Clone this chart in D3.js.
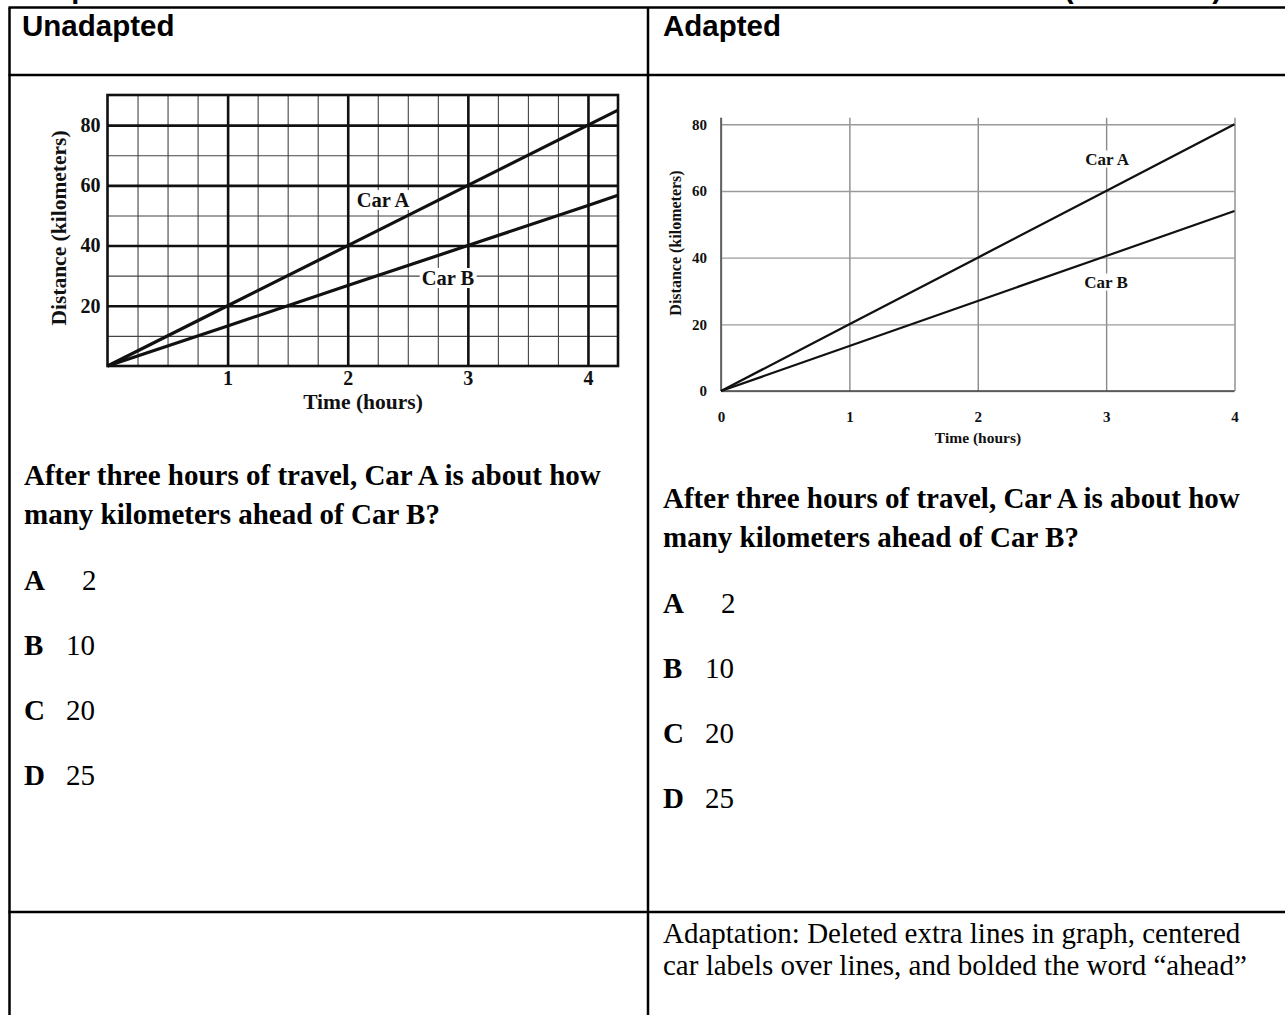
<!DOCTYPE html>
<html>
<head>
<meta charset="utf-8">
<script src="https://cdn.jsdelivr.net/npm/d3@7"></script>
<style>
  html, body { margin: 0; padding: 0; background: #fff; }
  svg { display: block; }
  .serif { font-family: "Liberation Serif", "Times New Roman", serif; }
  .sans { font-family: "Liberation Sans", Arial, sans-serif; }
</style>
</head>
<body>
<div id="page"></div>
<script>
// chart values
const leftHours = [0, 1, 2, 3, 4, 4.25];
const leftCarA = [0, 20, 40, 60, 80, 85];
const leftCarB = [0, 13.3, 26.7, 40, 53.3, 56.7];
const leftXTicks = [1, 2, 3, 4];
const leftYTicks = [20, 40, 60, 80];

const rightHours = [0, 1, 2, 3, 4];
const rightCarA = [0, 20, 40, 60, 80];
const rightCarB = [0, 13.5, 27, 40.5, 54];
const rightXTicks = [0, 1, 2, 3, 4];
const rightYTicks = [0, 20, 40, 60, 80];

const headers = ['Unadapted', 'Adapted'];
const questionLines = ['After three hours of travel, Car A is about how', 'many kilometers ahead of Car B?'];
const optionLetters = ['A', 'B', 'C', 'D'];
const optionValues = ['2', '10', '20', '25'];
const noteLines = ['Adaptation: Deleted extra lines in graph, centered', 'car labels over lines, and bolded the word \u201Cahead\u201D'];

const W = 1285, H = 1015;
const svg = d3.select('#page').append('svg')
    .attr('width', W)
    .attr('height', H);

svg.append('rect').attr('width', W).attr('height', H).attr('fill', '#fff');

// title line above the table, mostly cut off
svg.append('text').attr('class', 'sans').attr('x', 10).attr('y', -2)
    .attr('font-size', 29).attr('font-weight', 'bold').text('Sample');
svg.append('text').attr('class', 'sans').attr('x', 1064).attr('y', -2)
    .attr('font-size', 29).attr('font-weight', 'bold').text('(continued)');

// table borders
const table = svg.append('g').attr('stroke', '#000').attr('stroke-width', 2.5);
table.append('line').attr('x1', 8.5).attr('x2', W).attr('y1', 7.5).attr('y2', 7.5);
table.append('line').attr('x1', 9.5).attr('x2', 9.5).attr('y1', 7.5).attr('y2', H);
table.append('line').attr('x1', 648).attr('x2', 648).attr('y1', 7.5).attr('y2', H);
table.append('line').attr('x1', 8.5).attr('x2', W).attr('y1', 75).attr('y2', 75);
table.append('line').attr('x1', 8.5).attr('x2', W).attr('y1', 912).attr('y2', 912);

// column headers
svg.selectAll('.hdr').data(headers).enter().append('text')
    .attr('class', 'hdr sans')
    .attr('x', (d, i) => i === 0 ? 22 : 663)
    .attr('y', 36)
    .attr('font-size', 29.5)
    .attr('font-weight', 'bold')
    .text(d => d);

// ---------- left (unadapted) chart ----------
const xL = d3.scaleLinear().domain([0, 4.25]).range([107.5, 618]);
const yL = d3.scaleLinear().domain([0, 90]).range([366, 95]);
const left = svg.append('g');

const minorXL = d3.range(0.25, 4.25, 0.25).filter(v => !leftXTicks.includes(v));
const minorYL = [10, 30, 50, 70];

left.append('g')
    .attr('transform', `translate(0,${yL(0)})`)
    .call(d3.axisBottom(xL).tickValues(minorXL).tickSize(-(yL(0) - yL(90))).tickFormat(''))
    .call(g => g.select('.domain').remove())
    .selectAll('line').attr('stroke', '#444').attr('stroke-width', 1.1);
left.append('g')
    .attr('transform', `translate(${xL(0)},0)`)
    .call(d3.axisLeft(yL).tickValues(minorYL).tickSize(-(xL(4.25) - xL(0))).tickFormat(''))
    .call(g => g.select('.domain').remove())
    .selectAll('line').attr('stroke', '#444').attr('stroke-width', 1.1);

const xAxisL = left.append('g')
    .attr('transform', `translate(0,${yL(0)})`)
    .call(d3.axisBottom(xL).tickValues(leftXTicks).tickSize(-(yL(0) - yL(90))).tickPadding(5).tickFormat(d3.format('d')));
xAxisL.select('.domain').remove();
xAxisL.selectAll('line').attr('stroke', '#111').attr('stroke-width', 2.6);

const yAxisL = left.append('g')
    .attr('transform', `translate(${xL(0)},0)`)
    .call(d3.axisLeft(yL).tickValues(leftYTicks).tickSize(-(xL(4.25) - xL(0))).tickPadding(7).tickFormat(d3.format('d')));
yAxisL.select('.domain').remove();
yAxisL.selectAll('line').attr('stroke', '#111').attr('stroke-width', 2.6);

left.selectAll('.tick text')
    .attr('class', 'serif')
    .attr('font-size', 20)
    .attr('font-weight', 'bold')
    .attr('fill', '#111');

left.append('rect')
    .attr('x', xL(0)).attr('y', yL(90))
    .attr('width', xL(4.25) - xL(0)).attr('height', yL(0) - yL(90))
    .attr('fill', 'none').attr('stroke', '#111').attr('stroke-width', 2.6);

const lineL = d3.line().x(d => xL(d[0])).y(d => yL(d[1]));
[leftCarA, leftCarB].forEach(series => {
    left.append('path')
        .datum(leftHours.map((h, i) => [h, series[i]]))
        .attr('d', lineL)
        .attr('fill', 'none')
        .attr('stroke', '#111')
        .attr('stroke-width', 3.2);
});

function boxedLabel(g, x, y, txt, size, pad) {
    const t = g.append('text').attr('class', 'serif')
        .attr('x', x).attr('y', y)
        .attr('text-anchor', 'middle').attr('dominant-baseline', 'central')
        .attr('font-size', size).attr('font-weight', 'bold').attr('fill', '#111')
        .text(txt);
    const b = t.node().getBBox();
    g.insert('rect', () => t.node())
        .attr('x', b.x - pad).attr('y', b.y + 1)
        .attr('width', b.width + pad * 2).attr('height', b.height - 2)
        .attr('fill', '#fff');
}

boxedLabel(left, 383, 200, 'Car A', 20.5, 2);
boxedLabel(left, 448, 278, 'Car B', 20.5, 2);

left.append('text').attr('class', 'serif')
    .attr('x', 363).attr('y', 409)
    .attr('text-anchor', 'middle')
    .attr('font-size', 21.5).attr('font-weight', 'bold').attr('fill', '#111')
    .text('Time (hours)');
left.append('text').attr('class', 'serif')
    .attr('transform', 'translate(66,228) rotate(-90)')
    .attr('text-anchor', 'middle')
    .attr('font-size', 21.5).attr('font-weight', 'bold').attr('fill', '#111')
    .text('Distance (kilometers)');

// ---------- right (adapted) chart ----------
const xR = d3.scaleLinear().domain([0, 4]).range([721, 1234.5]);
const yR = d3.scaleLinear().domain([0, 80]).range([391, 124.3]);
const right = svg.append('g');

const gridTop = 82;
const xAxisR = right.append('g')
    .attr('transform', `translate(0,${yR(0)})`)
    .call(d3.axisBottom(xR).tickValues(rightXTicks).tickSize(-(yR(0) - yR(gridTop))).tickPadding(20).tickFormat(d3.format('d')));
xAxisR.select('.domain').remove();
xAxisR.selectAll('line').attr('stroke', '#8a8a8a').attr('stroke-width', 1.4);

const yAxisR = right.append('g')
    .attr('transform', `translate(${xR(0)},0)`)
    .call(d3.axisLeft(yR).tickValues(rightYTicks).tickSize(-(xR(4) - xR(0))).tickPadding(14).tickFormat(d3.format('d')));
yAxisR.select('.domain').remove();
yAxisR.selectAll('line').attr('stroke', '#9a9a9a').attr('stroke-width', 1.4);

right.selectAll('.tick text')
    .attr('class', 'serif')
    .attr('font-size', 15)
    .attr('font-weight', 'bold')
    .attr('fill', '#111');

// axis lines
right.append('line')
    .attr('x1', xR(0)).attr('x2', xR(0)).attr('y1', yR(gridTop)).attr('y2', yR(0))
    .attr('stroke', '#555').attr('stroke-width', 1.6);
right.append('line')
    .attr('x1', xR(0)).attr('x2', xR(4)).attr('y1', yR(0)).attr('y2', yR(0))
    .attr('stroke', '#444').attr('stroke-width', 1.6);

const lineR = d3.line().x(d => xR(d[0])).y(d => yR(d[1]));
[rightCarA, rightCarB].forEach(series => {
    right.append('path')
        .datum(rightHours.map((h, i) => [h, series[i]]))
        .attr('d', lineR)
        .attr('fill', 'none')
        .attr('stroke', '#111')
        .attr('stroke-width', 2.3);
});

boxedLabel(right, xR(3) + 1, 159, 'Car A', 17, 4);
boxedLabel(right, xR(3), 282, 'Car B', 17, 4);

right.append('text').attr('class', 'serif')
    .attr('x', 978).attr('y', 443)
    .attr('text-anchor', 'middle')
    .attr('font-size', 15.5).attr('font-weight', 'bold').attr('fill', '#111')
    .text('Time (hours)');
right.append('text').attr('class', 'serif')
    .attr('transform', 'translate(681,243) rotate(-90)')
    .attr('text-anchor', 'middle')
    .attr('font-size', 16).attr('font-weight', 'bold').attr('fill', '#111')
    .text('Distance (kilometers)');

// ---------- question text ----------
function question(x, y0, lineGap, optTop, optGap) {
    const g = svg.append('g').attr('class', 'serif').attr('fill', '#000');
    g.selectAll('.q').data(questionLines).enter().append('text')
        .attr('x', x).attr('y', (d, i) => y0 + i * lineGap)
        .attr('font-size', 29).attr('font-weight', 'bold')
        .text(d => d);
    optionLetters.forEach((letter, i) => {
        const t = g.append('text')
            .attr('x', x).attr('y', optTop + i * optGap)
            .attr('font-size', 29);
        t.append('tspan').attr('font-weight', 'bold').text(letter);
        t.append('tspan')
            .attr('x', x + (optionValues[i].length === 1 ? 58 : 42))
            .text(optionValues[i]);
    });
}
question(24, 485, 39, 590, 65);
question(663, 508, 39, 613, 65);

// ---------- adaptation note ----------
svg.append('g').attr('class', 'serif').selectAll('text')
    .data(noteLines).enter().append('text')
    .attr('x', 663).attr('y', (d, i) => 943 + i * 32)
    .attr('font-size', 29)
    .attr('fill', '#000')
    .text(d => d);
</script>
</body>
</html>
